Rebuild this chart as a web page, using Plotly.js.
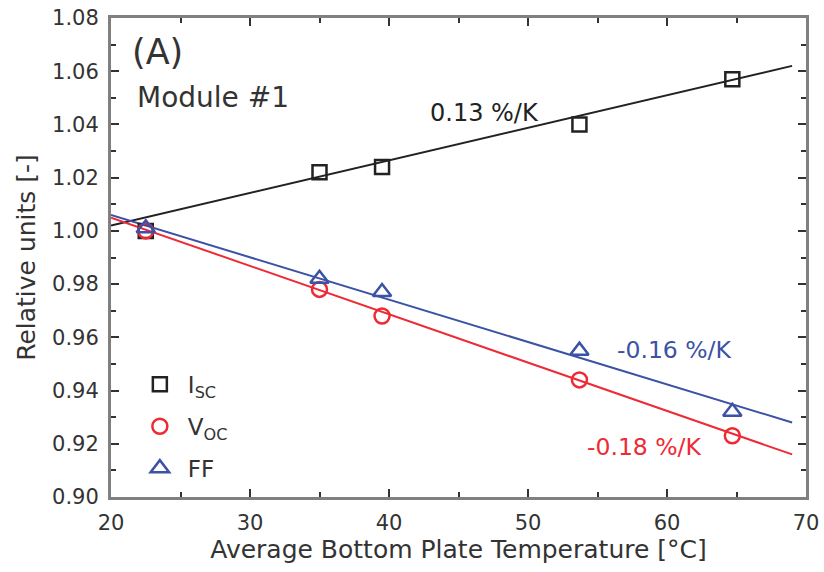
<!DOCTYPE html>
<html><head><meta charset="utf-8">
<script src="https://cdn.plot.ly/plotly-3.0.1.min.js"></script>
<style>html,body{margin:0;padding:0;background:#fff}#plot{width:824px;height:572px}</style>
</head><body><div id="plot"></div>
<script>
// Measured data
const temps = [22.5, 35.0, 39.5, 53.7, 64.7];
const isc = [1.000, 1.022, 1.024, 1.040, 1.057];
const voc = [1.000, 0.978, 0.968, 0.944, 0.923];
const ff  = [1.001, 0.982, 0.977, 0.955, 0.932];
// Linear fit lines (endpoints)
const fitT = [20, 69];
const iscFit = [1.002, 1.062];
const vocFit = [1.005, 0.916];
const ffFit  = [1.006, 0.928];

const cBlack = '#222222', cRed = '#ee2a35', cBlue = '#3b52a5';
const font = 'DejaVu Sans, sans-serif';

const traces = [
  {x: fitT, y: iscFit, mode: 'lines', line: {color: cBlack, width: 2}, showlegend: false, hoverinfo: 'skip'},
  {x: fitT, y: vocFit, mode: 'lines', line: {color: cRed, width: 2}, showlegend: false, hoverinfo: 'skip'},
  {x: fitT, y: ffFit, mode: 'lines', line: {color: cBlue, width: 2}, showlegend: false, hoverinfo: 'skip'},
  {x: temps, y: isc, mode: 'markers', name: 'I<sub>SC</sub>', legendgroup: 'a',
   marker: {symbol: 'square-open', size: 14, color: cBlack, line: {width: 2.5, color: cBlack}}},
  {x: temps, y: voc, mode: 'markers', name: 'V<sub>OC</sub>', legendgroup: 'b',
   marker: {symbol: 'circle-open', size: 15, color: cRed, line: {width: 2.5, color: cRed}}},
  {x: temps, y: ff, mode: 'markers', name: 'FF', legendgroup: 'c',
   marker: {symbol: 'triangle-up-open', size: 16, color: cBlue, line: {width: 2.5, color: cBlue}}}
];

const axisCommon = {
  showline: true, linecolor: '#808080', linewidth: 3, mirror: 'ticks',
  ticks: 'inside', ticklen: 8, tickwidth: 2, tickcolor: '#333',
  showgrid: false, zeroline: false,
  tickfont: {family: font, size: 21, color: '#333'}
};

const layout = {
  width: 824, height: 572,
  margin: {l: 111, r: 18, t: 18, b: 75},
  paper_bgcolor: '#fff', plot_bgcolor: '#fff',
  font: {family: font, color: '#333'},
  xaxis: Object.assign({}, axisCommon, {
    range: [20, 70], dtick: 10, tick0: 20, ticklabelstandoff: 5,
    minor: {dtick: 5, ticks: 'inside', ticklen: 5, tickwidth: 2, tickcolor: '#333', showgrid: false},
    title: {text: 'Average Bottom Plate Temperature [°C]', font: {family: font, size: 25, color: '#333'}, standoff: 6}
  }),
  yaxis: Object.assign({}, axisCommon, {
    range: [0.90, 1.08], dtick: 0.02, tick0: 0.90, tickformat: '.2f', ticklabelstandoff: 5,
    minor: {dtick: 0.01, ticks: 'inside', ticklen: 5, tickwidth: 2, tickcolor: '#333', showgrid: false},
    title: {text: 'Relative units [-]', font: {family: font, size: 25, color: '#333'}, standoff: 10}
  }),
  showlegend: true,
  legend: {x: 0.03, y: 0.28, xanchor: 'left', yanchor: 'top', bgcolor: 'rgba(0,0,0,0)',
    font: {family: font, size: 23, color: '#333'}, traceorder: 'grouped', tracegroupgap: 9, itemwidth: 46},
  annotations: [
    {x: 0.027, y: 0.93, xref: 'paper', yref: 'paper', xanchor: 'left', yanchor: 'middle', showarrow: false,
     text: '(A)', font: {family: font, size: 35, color: '#333'}},
    {x: 0.035, y: 0.833, xref: 'paper', yref: 'paper', xanchor: 'left', yanchor: 'middle', showarrow: false,
     text: 'Module #1', font: {family: font, size: 28, color: '#333'}},
    {x: 0.538, y: 0.802, xref: 'paper', yref: 'paper', xanchor: 'center', yanchor: 'middle', showarrow: false,
     text: '0.13 %/K', font: {family: font, size: 24, color: cBlack}},
    {x: 0.811, y: 0.307, xref: 'paper', yref: 'paper', xanchor: 'center', yanchor: 'middle', showarrow: false,
     text: '-0.16 %/K', font: {family: font, size: 23.5, color: cBlue}},
    {x: 0.768, y: 0.104, xref: 'paper', yref: 'paper', xanchor: 'center', yanchor: 'middle', showarrow: false,
     text: '-0.18 %/K', font: {family: font, size: 23.5, color: cRed}}
  ]
};

Plotly.newPlot('plot', traces, layout, {displayModeBar: false, staticPlot: true});
</script></body></html>
